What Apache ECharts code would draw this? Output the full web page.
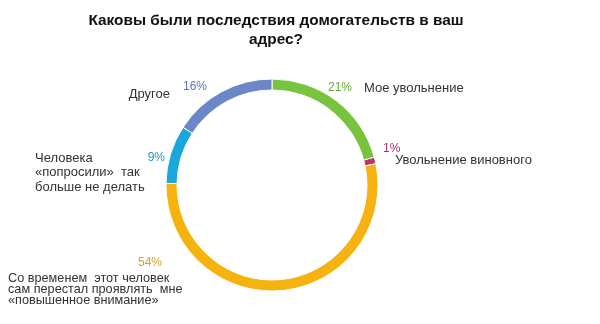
<!DOCTYPE html>
<html>
<head>
<meta charset="utf-8">
<script src="https://cdn.jsdelivr.net/npm/echarts@6/dist/echarts.min.js"></script>
<style>
  html, body { margin: 0; padding: 0; background: #fff; }
  #chart { width: 600px; height: 324px; }
</style>
</head>
<body>
<div id="chart"></div>
<script>
// Survey answers, clockwise from the top of the ring
const categories = [
  'Мое увольнение',
  'Увольнение виновного',
  'Со временем  этот человек\nсам перестал проявлять  мне\n«повышенное внимание»',
  'Человека\n«попросили»  так\nбольше не делать',
  'Другое'
];
const shares = [21, 1, 54, 9, 16];

// Appearance
const sliceColors = ['#78c43f', '#c3306b', '#f6b30f', '#1aa8dc', '#6c87c7'];
const pctColors   = ['#67a83a', '#b0336f', '#d6a030', '#1c9ad0', '#5875b5'];

// Label anchors: [x, y, align, verticalAlign]
const pctPos = [
  [328, 88, 'left', 'middle'],
  [383, 149, 'left', 'middle'],
  [162, 263, 'right', 'middle'],
  [165, 158, 'right', 'middle'],
  [183, 87, 'left', 'middle']
];
const namePos = [
  [364, 88, 'left', 'middle'],
  [395, 160, 'left', 'middle'],
  [8, 273, 'left', 'top'],
  [35, 151, 'left', 'top'],
  [170, 94, 'right', 'middle']
];
const nameLineHeights = [14, 14, 11, 14.5, 14];
const nameFontSizes = [13, 13, 12.7, 13, 13];

const chart = echarts.init(document.getElementById('chart'), null, { renderer: 'canvas' });

const pieData = categories.map((name, i) => ({
  name: name,
  value: shares[i],
  itemStyle: { color: sliceColors[i] }
}));

const common = {
  type: 'pie',
  center: [272, 185],
  radius: [95, 106],
  startAngle: 90,
  clockwise: true,
  avoidLabelOverlap: false,
  labelLine: { show: false },
  emphasis: { disabled: true },
  animation: false
};

chart.setOption({
  backgroundColor: '#ffffff',
  title: {
    text: 'Каковы были последствия домогательств в ваш\nадрес?',
    left: 271,
    textAlign: 'center',
    top: 6,
    textStyle: {
      fontFamily: 'Liberation Sans, Arial, sans-serif',
      fontSize: 15.4,
      fontWeight: 'bold',
      color: '#111',
      lineHeight: 19
    }
  },
  series: [
    Object.assign({}, common, {
      name: 'pct',
      itemStyle: { borderColor: '#ffffff', borderWidth: 1 },
      label: {
        show: true,
        position: 'outside',
        fontFamily: 'Liberation Sans, Arial, sans-serif',
        fontSize: 12,
        formatter: p => p.value + '%'
      },
      labelLayout: p => {
        const a = pctPos[p.dataIndex];
        return { x: a[0], y: a[1], align: a[2], verticalAlign: a[3] };
      },
      data: pieData.map((d, i) => Object.assign({}, d, {
        label: { color: pctColors[i] }
      }))
    }),
    Object.assign({}, common, {
      name: 'names',
      silent: true,
      itemStyle: { color: 'rgba(0,0,0,0)', borderWidth: 0 },
      label: {
        show: true,
        position: 'outside',
        fontFamily: 'Liberation Sans, Arial, sans-serif',
        color: '#333',
        formatter: p => p.name
      },
      labelLayout: p => {
        const a = namePos[p.dataIndex];
        return { x: a[0], y: a[1], align: a[2], verticalAlign: a[3] };
      },
      data: categories.map((name, i) => ({
        name: name,
        value: shares[i],
        itemStyle: { color: 'rgba(0,0,0,0)' },
        label: { lineHeight: nameLineHeights[i], fontSize: nameFontSizes[i] }
      }))
    })
  ]
});
</script>
</body>
</html>
